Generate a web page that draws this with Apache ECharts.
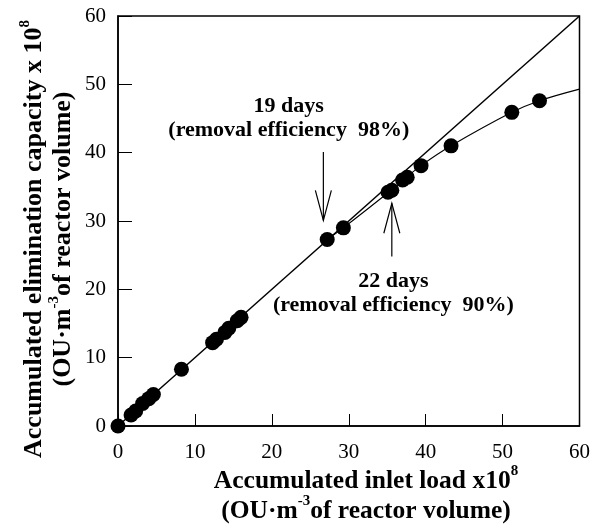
<!DOCTYPE html>
<html><head><meta charset="utf-8">
<script src="https://cdn.jsdelivr.net/npm/echarts@6/dist/echarts.min.js"></script>
<style>html,body{margin:0;padding:0;background:#fff}#c{width:593px;height:532px}</style>
</head><body><div id="c"></div>
<script>
// ---- data ----
const xTickMin = 0, xTickMax = 60, xTickStep = 10;
const yTickMin = 0, yTickMax = 60, yTickStep = 10;
const inletLoad = [0, 1.7, 2.3, 3.2, 4.0, 4.6, 8.25, 12.3, 12.8, 13.9, 14.4, 15.5, 16.0, 27.2, 29.3, 35.1, 35.6, 37.0, 37.6, 39.4, 43.3, 51.2, 54.8];
const eliminationCapacity = [0, 1.6, 2.2, 3.3, 4.0, 4.6, 8.3, 12.2, 12.7, 13.7, 14.3, 15.4, 15.9, 27.3, 29.0, 34.2, 34.5, 36.0, 36.4, 38.1, 41.0, 45.9, 47.6];
const diagonalX = [0, 60];
const diagonalY = [0, 60];
const curveX = [27.2, 29.3, 35.35, 37.3, 39.4, 43.3, 51.2, 54.8, 60];
const curveY = [27.3, 29.0, 34.35, 36.2, 38.1, 41.0, 45.9, 47.6, 49.3];
const arrowX = [26.7, 35.6];
const arrowTailY = [40.1, 24.8];
const arrowHeadY = [30.1, 32.6];
const noteX = [22.2, 35.8];
const noteY = [45.0, 19.4];
const noteText = ['19 days\n(removal efficiency  98%)', '22 days\n(removal efficiency  90%)'];

const FONT = "'Liberation Serif', 'Times New Roman', serif";
const chart = echarts.init(document.getElementById('c'));

function richTitle(size, lh) {
  return {
    a: {fontSize: size, fontWeight: 'bold', fontFamily: FONT, color: '#000', lineHeight: lh, verticalAlign: 'bottom'},
    s: {fontSize: 15, fontWeight: 'bold', fontFamily: FONT, color: '#000', lineHeight: 15, verticalAlign: 'top'}
  };
}

chart.setOption({
  animation: false,
  backgroundColor: '#fff',
  grid: {left: 118, right: 12, top: 16, bottom: 106, show: true, borderColor: '#000', borderWidth: 1.5, backgroundColor: 'transparent'},
  xAxis: {
    type: 'value', min: xTickMin, max: xTickMax, interval: xTickStep,
    axisLine: {show: true, lineStyle: {color: '#000', width: 1.5}},
    axisTick: {show: true, inside: true, length: 12, lineStyle: {color: '#000', width: 1}},
    splitLine: {show: false},
    axisLabel: {color: '#000', fontSize: 21, fontFamily: FONT, margin: 16}
  },
  yAxis: {
    type: 'value', min: yTickMin, max: yTickMax, interval: yTickStep,
    axisLine: {show: true, lineStyle: {color: '#000', width: 1.5}},
    axisTick: {show: true, inside: true, length: 14, lineStyle: {color: '#000', width: 1}},
    splitLine: {show: false},
    axisLabel: {color: '#000', fontSize: 21, fontFamily: FONT, margin: 12}
  },
  graphic: [
    {type: 'text', x: 366, y: 494, style: {
      text: '{a|Accumulated inlet load x10}{s|8}\n{a|(OU·m}{s|-3}{a|of reactor volume)}',
      rich: richTitle(25.5, 30), align: 'center', verticalAlign: 'middle'}},
    {type: 'text', x: 47, y: 239, rotation: Math.PI / 2, style: {
      text: '{a|Accumulated elimination capacity x 10}{s|8}\n{a|(OU·m}{s|-3}{a|of reactor volume)}',
      rich: richTitle(26, 29), align: 'center', verticalAlign: 'middle'}}
  ],
  series: [
    {type: 'line', data: diagonalX.map((x, i) => [x, diagonalY[i]]), symbol: 'none',
      lineStyle: {color: '#000', width: 1.5}, z: 2},
    {type: 'line', data: curveX.map((x, i) => [x, curveY[i]]), symbol: 'none', smooth: 0.35,
      lineStyle: {color: '#000', width: 1.1}, z: 2},
    {type: 'scatter', data: inletLoad.map((x, i) => [x, eliminationCapacity[i]]), symbol: 'circle', symbolSize: 15,
      itemStyle: {color: '#000', opacity: 1}, z: 3},
    {type: 'custom', clip: false, z: 4,
      data: arrowX.map((x, i) => [x, arrowTailY[i], arrowHeadY[i], noteX[i], noteY[i]]),
      renderItem: function (params, api) {
        const i = params.dataIndex;
        const tail = api.coord([api.value(0), api.value(1)]);
        const head = api.coord([api.value(0), api.value(2)]);
        const dir = head[1] > tail[1] ? 1 : -1;
        const hl = 30, hw = 8;
        const t = api.coord([api.value(3), api.value(4)]);
        return {type: 'group', children: [
          {type: 'line', shape: {x1: tail[0], y1: tail[1], x2: head[0], y2: head[1]}, style: {stroke: '#000', lineWidth: 1.2}},
          {type: 'polyline', shape: {points: [[head[0] - hw, head[1] - dir * hl], [head[0], head[1]], [head[0] + hw, head[1] - dir * hl]]},
            style: {stroke: '#000', fill: null, lineWidth: 1.2}},
          {type: 'text', x: t[0], y: t[1], style: {text: noteText[i], fontSize: 22, fontWeight: 'bold', fontFamily: FONT,
            align: 'center', verticalAlign: 'middle', lineHeight: 24, fill: '#000'}}
        ]};
      }
    }
  ]
});
</script></body></html>
